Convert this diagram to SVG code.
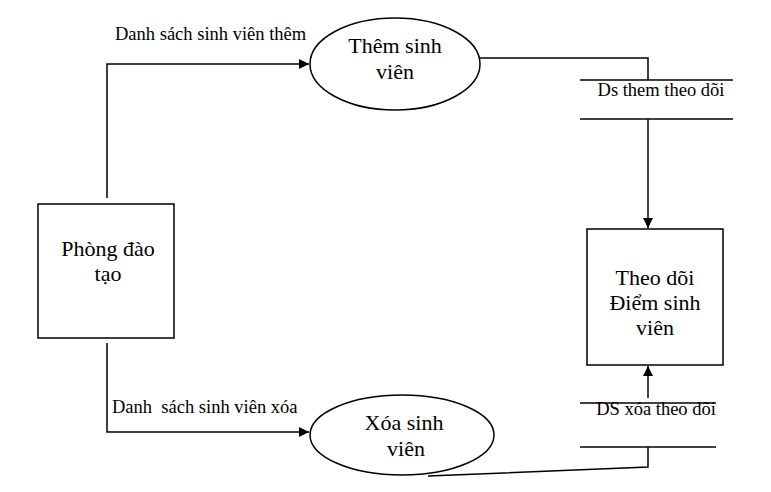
<svg xmlns="http://www.w3.org/2000/svg" width="771" height="492" viewBox="0 0 771 492">
<style>
.shape{fill:#fff;stroke:#000;stroke-width:1.5}
.line{fill:none;stroke:#000;stroke-width:1.5}
.node{font-family:"Liberation Serif","DejaVu Serif",serif;font-size:22px;fill:#000;text-anchor:middle}
.lbl{font-family:"Liberation Serif","DejaVu Serif",serif;font-size:18.5px;fill:#000}
</style>
<defs>
<marker id="arr" viewBox="0 0 10 10" refX="10" refY="5" markerWidth="10" markerHeight="10" markerUnits="userSpaceOnUse" orient="auto">
<path d="M0,0 L10,5 L0,10 Z" fill="#000"/>
</marker>
</defs>
<rect width="771" height="492" fill="#fff"/>
<g id="connectors">
<polyline class="line" points="107,198 107,64 309,64" marker-end="url(#arr)"/>
<polyline class="line" points="107,343 107,432 309,432" marker-end="url(#arr)"/>
<polyline class="line" points="479,58 648,58 648,80"/>
<line class="line" x1="648" y1="119" x2="648" y2="228" marker-end="url(#arr)"/>
<line class="line" x1="648" y1="398" x2="648" y2="366" marker-end="url(#arr)"/>
<polyline class="line" points="648,447 648,467 428,476"/>
</g>
<g id="labels">
<text class="lbl" x="115" y="40">Danh sách sinh viên thêm</text>
<text class="lbl" x="112" y="413" xml:space="preserve">Danh  sách sinh viên xóa</text>
</g>
<g id="phong-dao-tao">
<rect class="shape" x="38" y="204" width="136" height="134"/>
<text class="node" x="108" y="256">Phòng đào</text>
<text class="node" x="108" y="281">tạo</text>
</g>
<g id="them-sinh-vien">
<ellipse class="shape" cx="395" cy="64" rx="85" ry="46"/>
<text class="node" x="395" y="53">Thêm sinh</text>
<text class="node" x="395" y="79">viên</text>
</g>
<g id="xoa-sinh-vien">
<ellipse class="shape" cx="402" cy="435" rx="92" ry="40"/>
<text class="node" x="404" y="430">Xóa sinh</text>
<text class="node" x="406" y="456">viên</text>
</g>
<g id="ds-them-theo-doi">
<line class="line" x1="580" y1="80" x2="733" y2="80"/>
<line class="line" x1="580" y1="119" x2="733" y2="119"/>
<text class="lbl" x="661" y="96" text-anchor="middle">Ds them theo dõi</text>
</g>
<g id="ds-xoa-theo-doi">
<line class="line" x1="580" y1="403" x2="716" y2="403"/>
<line class="line" x1="580" y1="447" x2="716" y2="447"/>
<text class="lbl" x="656" y="415" text-anchor="middle">DS xóa theo dõi</text>
</g>
<g id="theo-doi-diem">
<rect class="shape" x="587" y="229" width="136" height="136"/>
<text class="node" x="655" y="285">Theo dõi</text>
<text class="node" x="655" y="310">Điểm sinh</text>
<text class="node" x="655" y="335">viên</text>
</g>
</svg>
